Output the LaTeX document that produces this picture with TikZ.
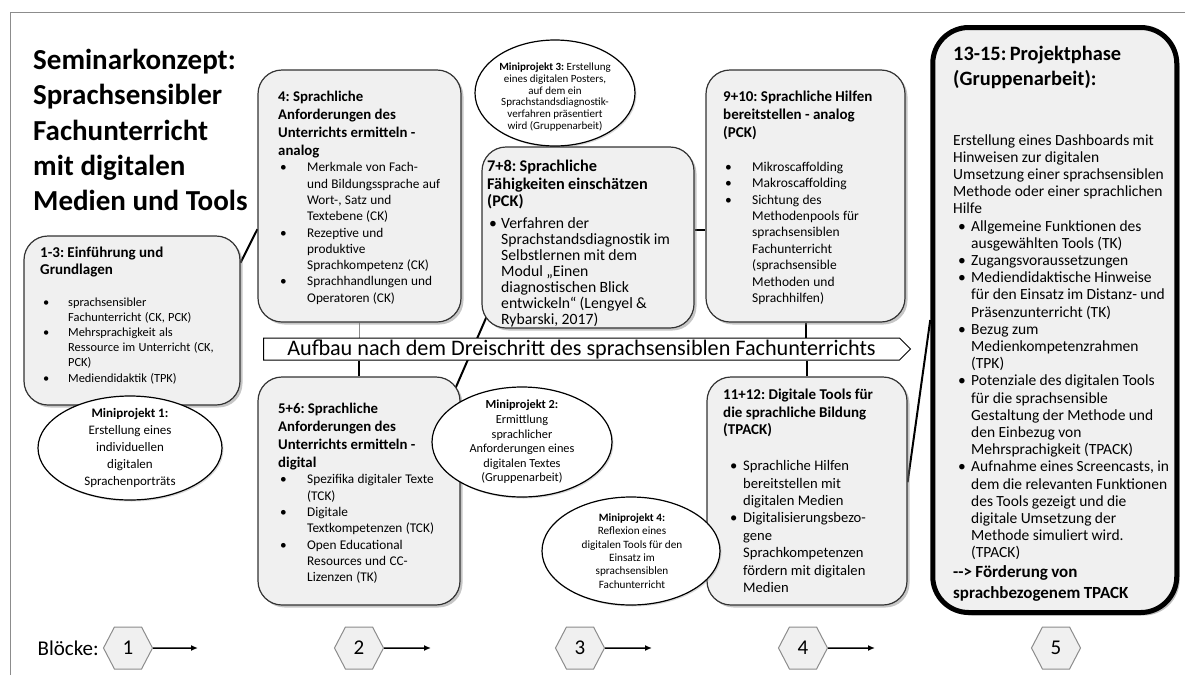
\documentclass[tikz,border=0pt]{standalone}
\usepackage{fontspec}
\setmainfont{Carlito}
\usepackage{xcolor}
\usetikzlibrary{shapes.geometric,shapes.symbols,shadows,arrows.meta,backgrounds}

\definecolor{boxgray}{HTML}{F0F0F0}
\definecolor{linegray}{HTML}{333333}
\definecolor{framegray}{HTML}{8C8C8C}

\newcommand{\fsz}[2]{\fontsize{#1}{#2}\selectfont}
% bullet line: #1 bullet offset, #2 text indent, #3 text
\newcommand{\bpt}[3]{\par\noindent\hangindent=#2pt\hangafter=1\makebox[#2pt][l]{\hspace{#1pt}\textbullet}#3\par}
\frenchspacing

\begin{document}
\begin{tikzpicture}[x=1pt,y=1pt,yscale=-1,xscale=1,
  box/.style={rectangle, rounded corners=24pt, draw=linegray, line width=1.2pt, fill=boxgray, inner sep=0pt,
    drop shadow={shadow xshift=2.5pt, shadow yshift=-2.5pt, opacity=.45}},
  bigbox/.style={rectangle, rounded corners=36pt, draw=black, line width=5pt, fill=boxgray, inner sep=0pt,
    drop shadow={shadow xshift=3pt, shadow yshift=-3pt, opacity=.5}},
  mini/.style={ellipse, draw=black, line width=1.2pt, fill=white, inner sep=0pt,
    drop shadow={shadow xshift=1.5pt, shadow yshift=-1.5pt, opacity=.3}},
  mtxt/.style={inner sep=0pt, align=center},
  txt/.style={anchor=north west, inner sep=0pt, align=left, text width=260pt},
  banner/.style={signal, signal to=east, signal from=nowhere, draw=black, line width=1pt, fill=white,
    inner sep=0pt, font=\fsz{22.2}{24}},
  hexa/.style={signal, signal to=east and west, signal from=nowhere, signal pointer angle=125, minimum width=49pt,
    minimum height=42pt, draw=framegray, line width=1pt, fill=boxgray, inner sep=0pt, font=\fsz{21}{21}},
  link/.style={draw=black, line width=2pt},
  thinlink/.style={draw=framegray, line width=1pt},
  blkarrow/.style={line width=1.5pt, -{Latex[length=7pt,width=6pt]}}]

\useasboundingbox (0,0) rectangle (1185,675);

%Frame
\draw [framegray, line width=1pt] (10,675) -- (10,12) -- (1185,12);

% Text Node: title
\node [anchor=north west, inner sep=0pt, align=left, font=\bfseries\fsz{29}{35.3}] (ttl) at (33,49)
  {Seminarkonzept:\\Sprachsensibler\\Fachunterricht\\mit digitalen\\Medien und Tools};

%Shape: Rounded Rect 1-3
\node [box, minimum width=216pt, minimum height=169pt] (b13) at (132,320.5) {};
%Shape: Rounded Rect 4
\node [box, minimum width=203pt, minimum height=252pt] (b4) at (359.5,196) {};
%Shape: Rounded Rect 5+6
\node [box, minimum width=202pt, minimum height=228pt] (b56) at (359,491) {};
%Shape: Rounded Rect 7+8
\node [box, minimum width=212pt, minimum height=181pt] (b78) at (588,237.5) {};
%Shape: Rounded Rect 9+10
\node [box, minimum width=199pt, minimum height=252pt] (b910) at (805.5,196) {};
%Shape: Rounded Rect 11+12
\node [box, minimum width=200pt, minimum height=228pt] (b1112) at (807,491) {};
%Shape: Rounded Rect 13-15
\node [bigbox, minimum width=244pt, minimum height=585pt] (b1315) at (1054.75,320) {};

%Banner
\node [banner, minimum width=647pt, minimum height=22pt] (arw) at (581.5,349)
  {Aufbau nach dem Dreischritt des sprachsensiblen Fachunterrichts};

%Straight Lines
\begin{pgfonlayer}{background}
\draw [link] (b13.28) -- (b4.198);
\draw [thinlink] (b4.south) -- (b4.south |- arw.north);
\draw [link] (b56.north) -- (b56.north |- arw.south);
\draw [link, shorten <=-15pt, shorten >=-15pt] (b56.north east) -- (b78.south west);
\draw [link] (b78.4) -- (b78.4 -| b910.west);
\draw [link] (b910.south) -- (b910.south |- arw.north);
\draw [link] (b1112.north) -- (b1112.north |- arw.south);
\draw [link] (b1112.5) -- (b1315.west);
\end{pgfonlayer}

%Shape: Ellipses
\node [mini, minimum width=184pt, minimum height=104pt] (mp1) at (130,448) {};
\node [mini, minimum width=180pt, minimum height=110pt] (mp2) at (522,442) {};
\node [mini, minimum width=160pt, minimum height=106pt] (mp3) at (555,93) {};
\node [mini, minimum width=178pt, minimum height=108pt] (mp4) at (631,551) {};

% Text Node
\node [mtxt, font=\fsz{13}{17}] (mp1t) at (mp1.center)
  {\textbf{Miniprojekt 1:}\\Erstellung eines\\individuellen\\digitalen\\Sprachenporträts};
% Text Node
\node [mtxt, font=\fsz{12.3}{14.6}] (mp2t) at (mp2.center)
  {\textbf{Miniprojekt 2:}\\Ermittlung\\sprachlicher\\Anforderungen eines\\digitalen Textes\\(Gruppenarbeit)};
% Text Node
\node [mtxt, font=\fsz{11}{11.7}] (mp3t) at (555,97)
  {\textbf{Miniprojekt 3:} Erstellung\\eines digitalen Posters,\\auf dem ein\\Sprachstandsdiagnostik-\\verfahren präsentiert\\wird (Gruppenarbeit)};
% Text Node
\node [mtxt, font=\fsz{11.2}{13.3}] (mp4t) at (632,551)
  {\textbf{Miniprojekt 4:}\\Reflexion eines\\digitalen Tools für den\\Einsatz im\\sprachsensiblen\\Fachunterricht};

% Text Node
\node [txt] (t13) at (40,247) {%
  {\bfseries\fsz{15}{16.7}1-3: Einführung und\\Grundlagen\par}
  \vspace{16.5pt}
  {\fsz{12.4}{15.2}%
  \bpt{3}{28}{sprachsensibler\newline Fachunterricht (CK, PCK)}%
  \bpt{3}{28}{Mehrsprachigkeit als\newline Ressource im Unterricht (CK,\newline PCK)}%
  \bpt{3}{28}{Mediendidaktik (TPK)}}};
% Text Node
\node [txt] (t4) at (278,91) {%
  {\bfseries\fsz{14.8}{18}4: Sprachliche\\Anforderungen des\\Unterrichts ermitteln -\\analog\par}
  {\fsz{13.3}{16.3}%
  \bpt{2}{29}{Merkmale von Fach-\newline und Bildungssprache auf\newline Wort-, Satz und\newline Textebene (CK)}%
  \bpt{2}{29}{Rezeptive und\newline produktive\newline Sprachkompetenz (CK)}%
  \bpt{2}{29}{Sprachhandlungen und\newline Operatoren (CK)}}};
% Text Node
\node [txt] (t56) at (278,403) {%
  {\bfseries\fsz{14.8}{18}5+6: Sprachliche\\Anforderungen des\\Unterrichts ermitteln -\\digital\par}
  {\fsz{13.3}{16.3}%
  \bpt{2}{29}{Spezifika digitaler Texte\newline (TCK)}%
  \bpt{2}{29}{Digitale\newline Textkompetenzen (TCK)}%
  \bpt{2}{29}{Open Educational\newline Resources und CC-\newline Lizenzen (TK)}}};
% Text Node
\node [txt] (t78) at (487,160) {%
  {\bfseries\fsz{16.3}{17.5}7+8: Sprachliche\\Fähigkeiten einschätzen\\(PCK)\par}
  \vspace{5.7pt}
  {\fsz{15.7}{16}%
  \bpt{2}{14}{Verfahren der\newline Sprachstandsdiagnostik im\newline Selbstlernen mit dem\newline Modul „Einen\newline diagnostischen Blick\newline entwickeln“ (Lengyel \&\newline Rybarski, 2017)}}};
% Text Node
\node [txt] (t910) at (723,91) {%
  {\bfseries\fsz{15}{18}9+10: Sprachliche Hilfen\\bereitstellen - analog\\(PCK)\par}
  \vspace{17.2pt}
  {\fsz{13.5}{16.4}%
  \bpt{2}{29}{Mikroscaffolding}%
  \bpt{2}{29}{Makroscaffolding}%
  \bpt{2}{29}{Sichtung des\newline Methodenpools für\newline sprachsensiblen\newline Fachunterricht\newline (sprachsensible\newline Methoden und\newline Sprachhilfen)}}};
% Text Node
\node [txt] (t1112) at (723,389) {%
  {\bfseries\fsz{15}{17.5}11+12: Digitale Tools für\\die sprachliche Bildung\\(TPACK)\par}
  \vspace{18.5pt}
  {\fsz{14.6}{17.4}%
  \bpt{7}{20}{Sprachliche Hilfen\newline bereitstellen mit\newline digitalen Medien}%
  \bpt{7}{20}{Digitalisierungsbezo-\newline gene\newline Sprachkompetenzen\newline fördern mit digitalen\newline Medien}}};
% Text Node
\node [txt] (t1315) at (953,46) {%
  {\bfseries\fsz{20.4}{25}13-15: Projektphase\\(Gruppenarbeit):\par}
  \vspace{42.4pt}
  {\fsz{15.5}{17.2}%
  \noindent Erstellung eines Dashboards mit\newline Hinweisen zur digitalen\newline Umsetzung einer sprachsensiblen\newline Methode oder einer sprachlichen\newline Hilfe\par
  \bpt{5}{18}{Allgemeine Funktionen des\newline ausgewählten Tools (TK)}%
  \bpt{5}{18}{Zugangsvoraussetzungen}%
  \bpt{5}{18}{Mediendidaktische Hinweise\newline für den Einsatz im Distanz- und\newline Präsenzunterricht (TK)}%
  \bpt{5}{18}{Bezug zum\newline Medienkompetenzrahmen\newline (TPK)}%
  \bpt{5}{18}{Potenziale des digitalen Tools\newline für die sprachsensible\newline Gestaltung der Methode und\newline den Einbezug von\newline Mehrsprachigkeit (TPACK)}%
  \bpt{5}{18}{Aufnahme eines Screencasts, in\newline dem die relevanten Funktionen\newline des Tools gezeigt und die\newline digitale Umsetzung der\newline Methode simuliert wird.\newline (TPACK)}}
  \vspace{-1.5pt}
  {\bfseries\fsz{17}{21}-\kern0pt-> Förderung von\\sprachbezogenem TPACK\par}};

% Text Node: Blöcke
\node [anchor=east, inner sep=0pt, font=\fsz{21}{21}] (blk) at (99,648) {Blöcke:};
\node [hexa] (k1) at (128,648) {1};
\node [hexa] (k2) at (359,648) {2};
\node [hexa] (k3) at (580,648) {3};
\node [hexa] (k4) at (803,648) {4};
\node [hexa] (k5) at (1056,648) {5};
\coordinate (e1) at (198,648);
\coordinate (e2) at (431,648);
\coordinate (e3) at (652,648);
\coordinate (e4) at (875,648);
\draw [blkarrow] (k1) -- (e1);
\draw [blkarrow] (k2) -- (e2);
\draw [blkarrow] (k3) -- (e3);
\draw [blkarrow] (k4) -- (e4);

\end{tikzpicture}
\end{document}
